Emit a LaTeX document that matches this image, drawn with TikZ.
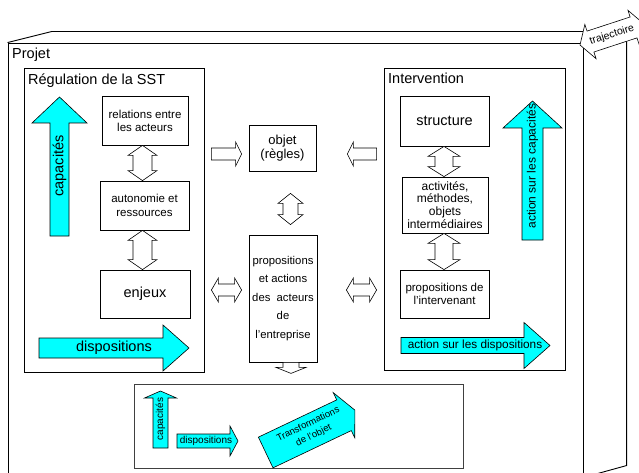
\documentclass[tikz,border=0pt]{standalone}
\usepackage{fontspec}
\setmainfont{Liberation Sans}
\usetikzlibrary{calc}
\definecolor{acyan}{RGB}{0,255,255}
\newcommand{\fsz}[2]{\fontsize{#1}{#2}\selectfont}
% single block arrow: #1 style, #2 start, #3 tip, #4 shaft width, #5 head width, #6 head length
\newcommand{\sarr}[6]{%
  \path let \p1=#2, \p2=#3 in \pgfextra{%
    \pgfmathsetmacro\tmpa{atan2((\y2)-(\y1),(\x2)-(\x1))}%
    \pgfmathsetmacro\tmpl{veclen((\x2)-(\x1),(\y2)-(\y1))}%
    \xdef\arA{\tmpa}\xdef\arL{\tmpl}};
  \begin{scope}[shift={#2}, rotate=\arA]
    \draw[#1] (0,{-(#4)/2}) -- ({\arL-(#6)},{-(#4)/2}) -- ({\arL-(#6)},{-(#5)/2})
      -- (\arL,0) -- ({\arL-(#6)},{(#5)/2}) -- ({\arL-(#6)},{(#4)/2}) -- (0,{(#4)/2}) -- cycle;
  \end{scope}}
% double block arrow
\newcommand{\darr}[6]{%
  \path let \p1=#2, \p2=#3 in \pgfextra{%
    \pgfmathsetmacro\tmpa{atan2((\y2)-(\y1),(\x2)-(\x1))}%
    \pgfmathsetmacro\tmpl{veclen((\x2)-(\x1),(\y2)-(\y1))}%
    \xdef\arA{\tmpa}\xdef\arL{\tmpl}};
  \begin{scope}[shift={#2}, rotate=\arA]
    \draw[#1] (0,0) -- (#6,{-(#5)/2}) -- (#6,{-(#4)/2}) -- ({\arL-(#6)},{-(#4)/2})
      -- ({\arL-(#6)},{-(#5)/2}) -- (\arL,0) -- ({\arL-(#6)},{(#5)/2})
      -- ({\arL-(#6)},{(#4)/2}) -- (#6,{(#4)/2}) -- (#6,{(#5)/2}) -- cycle;
  \end{scope}}
\tikzset{
  box/.style={draw, line width=0.8pt, inner sep=0pt, align=center},
  frame/.style={draw, line width=0.9pt},
  cyanarr/.style={draw=black, fill=acyan, line width=0.6pt},
  whitearr/.style={draw=black, fill=white, line width=0.6pt},
  lbl/.style={inner sep=0pt, align=center},
}
\begin{document}
\begin{tikzpicture}[x=1pt,y=-1pt]
\useasboundingbox (0,0) rectangle (639,473);
% outer 3D project box
\node[frame, minimum width=575pt, minimum height=434pt, inner sep=0pt] (projet) at (295.5,260) {};
\draw[frame] (projet.north west) -- ++(44,-11) coordinate (btl) -- ++(575,0) coordinate (btr) -- (projet.north east);
\draw[frame] (btr) -- ++(0,434) coordinate (bbr) -- (projet.south east);
\node[lbl, anchor=base west, font=\fsz{14.5}{17}] (tprojet) at (12,58.5) {Projet};

% main frames
\node[box, minimum width=180pt, minimum height=304pt] (reg) at (114,220) {};
\node[box, minimum width=181pt, minimum height=302pt] (int) at (474.5,219) {};
\node[box, draw=black!75, line width=1pt, minimum width=329pt, minimum height=84pt] (bot) at (298.5,426) {};
\node[lbl, anchor=base west, font=\fsz{14.5}{17}] (treg) at (28,85) {Régulation de la SST};
\node[lbl, anchor=base west, font=\fsz{14.5}{17}] (tint) at (388,83.5) {Intervention};

% left column
\node[box, minimum width=86pt, minimum height=49pt, font=\fsz{11.5}{12.8}] (rel) at (145,120.5) {relations entre\\les acteurs};
\node[box, minimum width=89pt, minimum height=49pt, font=\fsz{11.5}{13.3}] (auto) at (144.5,205.5) {autonomie et\\ressources};
\node[box, minimum width=90pt, minimum height=48pt, font=\fsz{14.5}{17}] (enj) at (145,294) {enjeux};

% middle column
\node[box, minimum width=67pt, minimum height=46pt, font=\fsz{13}{14.5}] (obj) at (282.5,148) {objet\\(règles)};
\node[box, minimum width=68pt, minimum height=127pt, font=\fsz{11.3}{18.5}] (prop) at (283,298.5) {propositions\\et actions\\des~ acteurs\\de\\l'entreprise};

% right column
\node[box, minimum width=89pt, minimum height=50pt, font=\fsz{14.5}{17}] (str) at (444.5,121) {structure};
\node[box, minimum width=86pt, minimum height=56pt, font=\fsz{12}{12.8}] (act) at (445,205) {activités,\\méthodes,\\objets\\intermédiaires};
\node[box, minimum width=89pt, minimum height=48pt, font=\fsz{11.5}{12.5}] (pint) at (444.5,294) {propositions de\\l'intervenant};

% cyan arrows
\sarr{cyanarr}{(59.5,236)}{(59.5,97)}{19}{55}{26}
\sarr{cyanarr}{(39,348)}{(189,348)}{20}{46}{26}
\sarr{cyanarr}{(532.5,240)}{(532.5,101)}{21}{59}{27}
\sarr{cyanarr}{(401,345.5)}{(550,345.5)}{16}{46}{26}
\sarr{cyanarr}{(160.5,448)}{(160.5,391)}{15}{32}{7}
\sarr{cyanarr}{(177,441)}{(238,441)}{14}{30}{8}
\sarr{cyanarr}{(265.7,452.5)}{(355,410)}{34}{50}{12}

\node[lbl, rotate=90, font=\fsz{14.5}{17}] (tcap) at (59.5,166) {capacités};
\node[lbl, font=\fsz{14.5}{17}] (tdisp) at (114,348) {dispositions};
\node[lbl, rotate=90, font=\fsz{12}{14}] (tacap) at (532.5,166) {action sur les capacités};
\node[lbl, font=\fsz{11.8}{14}] (tadisp) at (475,345.5) {action sur les dispositions};
\node[lbl, rotate=90, font=\fsz{10}{12}] (tbcap) at (160.5,419) {capacités};
\node[lbl, font=\fsz{10}{12}] (tbdisp) at (206,441) {dispositions};
\node[lbl, rotate=26, font=\fsz{9.5}{12.5}] (ttrans) at (311,430) {Transformations\\de l'objet};

% white connector arrows
\darr{whitearr}{($(rel.south)+(-2.5,0)$)}{($(auto.north)+(-2,0)$)}{19}{29}{10}
\darr{whitearr}{($(auto.south)+(-2,0)$)}{($(enj.north)+(-2.5,0)$)}{19}{29}{10}
\darr{whitearr}{($(obj.south)+(8,22)$)}{($(prop.north)+(7.5,-10)$)}{15}{25}{10}
\darr{whitearr}{($(str.south)+(-0.5,0)$)}{($(act.north)+(-1,0)$)}{18}{32}{10}
\darr{whitearr}{($(act.south)+(-1,0)$)}{($(pint.north)+(-0.5,0)$)}{18}{32}{10}
\darr{whitearr}{($(reg.east|-prop.center)+(7,-8.5)$)}{($(prop.west)+(-7,-8.5)$)}{12}{24}{7}
\darr{whitearr}{($(prop.east)+(29,-8.5)$)}{($(int.west|-prop.center)+(-7,-8.5)$)}{12}{24}{7}
\sarr{whitearr}{($(reg.east|-obj.center)+(7,6)$)}{($(obj.west)+(-7,6)$)}{12}{24}{6}
\sarr{whitearr}{($(int.west|-obj.center)+(-7,6)$)}{($(obj.east)+(31,6)$)}{12}{24}{6}
\sarr{whitearr}{($(prop.south)+(8,0)$)}{($(prop.south)+(8,11)$)}{16}{30}{6}

% trajectoire
\darr{whitearr}{(580,45)}{(644,24)}{22}{36}{11}
\node[lbl, rotate=18, font=\fsz{10.5}{12}] (ttraj) at (612,35) {trajectoire};
\end{tikzpicture}
\end{document}
